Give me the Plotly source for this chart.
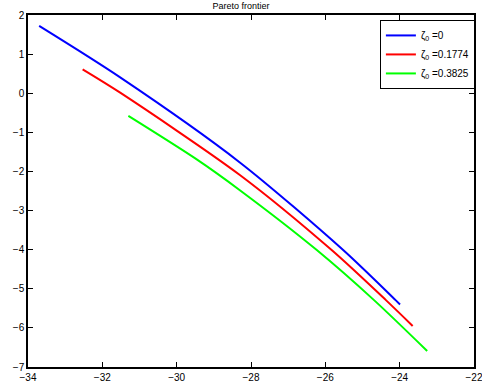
import plotly.graph_objects as go

blue_x = [-33.70, -31.53, -28.30, -25.52, -24.11, -23.99]
blue_y = [1.72, 0.41, -1.77, -4.01, -5.29, -5.40]
red_x = [-32.53, -31.53, -28.30, -25.83, -24.37, -23.65]
red_y = [0.61, 0.02, -2.09, -4.01, -5.29, -5.95]
green_x = [-31.30, -29.48, -28.30, -26.23, -24.69, -23.26]
green_y = [-0.58, -1.68, -2.48, -4.01, -5.29, -6.59]
names = ["ζ<sub>0</sub> =0", "ζ<sub>0</sub> =0.1774", "ζ<sub>0</sub> =0.3825"]
colors = ["#0000ff", "#ff0000", "#00ff00"]

fig = go.Figure()
for xs, ys, n, c in zip([blue_x, red_x, green_x], [blue_y, red_y, green_y], names, colors):
    fig.add_trace(go.Scatter(x=xs, y=ys, mode="lines", name=n,
                             line=dict(color=c, width=2, shape="spline", smoothing=0.8)))

axis_common = dict(showgrid=False, zeroline=False, showline=True, linecolor="black",
                   linewidth=1.5, mirror="ticks", ticks="inside", ticklen=5,
                   tickcolor="black", tickwidth=1, automargin=False,
                   ticklabeloverflow="allow",
                   tickfont=dict(family="Liberation Sans, Arial", size=10, color="black"))
fig.update_xaxes(range=[-34, -22], tickvals=list(range(-34, -21, 2)), **axis_common)
fig.update_yaxes(range=[-7, 2], tickvals=list(range(-7, 3)), **axis_common)

fig.update_layout(
    width=482, height=386,
    margin=dict(l=28, r=8, t=15, b=19, autoexpand=False),
    paper_bgcolor="white", plot_bgcolor="white",
    title=dict(text="Pareto frontier", x=0.5, xanchor="center", y=0.992, yanchor="top",
               font=dict(family="Liberation Sans, Arial", size=9, color="black")),
    legend=dict(x=1.002, y=0.986, xanchor="right", yanchor="top",
                bordercolor="black", borderwidth=1, bgcolor="white",
                font=dict(family="Liberation Sans, Arial", size=10, color="black"),
                tracegroupgap=0),
    showlegend=True,
)
fig.write_html("out.html")
